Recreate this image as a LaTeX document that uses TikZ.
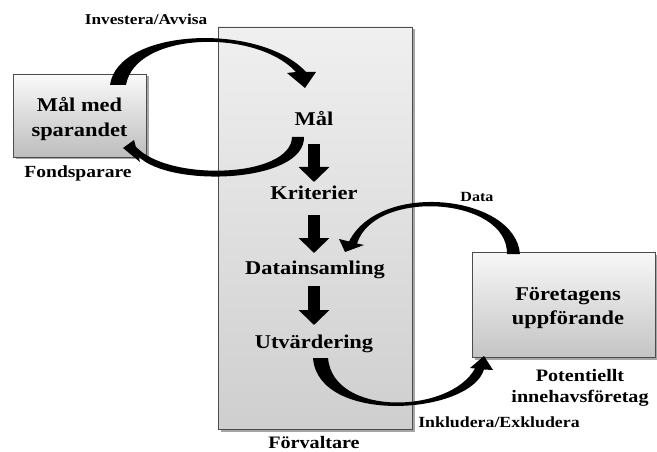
\documentclass[tikz,border=0pt]{standalone}
\usepackage{fontspec}
\setmainfont{Liberation Serif}[FakeStretch=1.15]
\usetikzlibrary{arrows.meta,shadows}

\tikzset{
  panel/.style={draw=black!70, line width=0.8pt, inner sep=0pt,
    drop shadow={shadow xshift=2.5pt, shadow yshift=-2.5pt, fill=black, opacity=0.35}},
  bigtxt/.style={font=\bfseries\fontsize{19.5}{25}\selectfont, inner sep=0pt, align=center},
  midtxt/.style={font=\bfseries\fontsize{17.5}{21}\selectfont, inner sep=0pt, align=center},
  smalltxt/.style={font=\bfseries\fontsize{15}{18}\selectfont, inner sep=0pt},
  blockdown/.style={line width=12pt, -{Triangle[width=30pt,length=15pt]}},
  curvedflow/.style={fill=black}
}

\begin{document}
\begin{tikzpicture}[x=1pt,y=-1pt]
\useasboundingbox (0,0) rectangle (657,452);

% boxes
\node[panel, top color=black!6, bottom color=black!19,
      minimum width=194pt, minimum height=402pt] (mgrbox) at (315,228) {};
\node[panel, top color=black!2, bottom color=black!26,
      minimum width=133pt, minimum height=83pt] (saverbox) at (79.5,115.5) {};
\node[panel, top color=black!3, bottom color=black!23,
      minimum width=183pt, minimum height=105pt] (firmbox) at (563.5,304.5) {};

% straight steps inside the manager box
\coordinate (s1a) at (314,144); \coordinate (s1b) at (314,182);
\coordinate (s2a) at (314,215); \coordinate (s2b) at (314,253);
\coordinate (s3a) at (314,286); \coordinate (s3b) at (314,325);
\draw[blockdown] (s1a) -- (s1b);
\draw[blockdown] (s2a) -- (s2b);
\draw[blockdown] (s3a) -- (s3b);

% Investera/Avvisa: saver -> Mål
\fill[curvedflow] (110,85) .. controls (118,28) and (260,22) .. (306,72)
  -- (316,72) -- (305,88) -- (287,73) -- (296,72)
  .. controls (255,28) and (135,32) .. (126,85) -- cycle;

% Mål -> saver
\fill[curvedflow] (304,137) .. controls (305,183) and (170,188) .. (138.5,156.5)
  -- (140,162) -- (123,148) -- (134,140) -- (135.8,146.6)
  .. controls (168,182) and (291,178) .. (292,137) -- cycle;

% Data: firm -> Datainsamling
\fill[curvedflow] (520,254) .. controls (515,195) and (380,180) .. (349,241.5)
  -- (339,239) -- (345,252) -- (364,245) -- (357,243.5)
  .. controls (375,188) and (508,197) .. (507,254) -- cycle;

% Inkludera/Exkludera: Utvärdering -> firm
\fill[curvedflow] (313,358) .. controls (318,425) and (470,415) .. (484,369.5)
  -- (493,370) -- (484,356) -- (470,368) -- (475,368.5)
  .. controls (450,414) and (333,417) .. (328,358) -- cycle;

% texts (multi-line nodes sit on the baseline of their last line)
\node[bigtxt, anchor=base] (saver) at (79.5,137) {Mål med\\sparandet};
\node[midtxt, anchor=base, font=\bfseries\fontsize{17}{20}\selectfont] (fonds) at (78,178) {Fondsparare};
\node[smalltxt, anchor=base] (invest) at (146,25) {Investera/Avvisa};

\node[bigtxt, anchor=base] (goal) at (314,125) {Mål};
\node[bigtxt, anchor=base] (crit) at (314,200) {Kriterier};
\node[bigtxt, anchor=base] (collect) at (315,274) {Datainsamling};
\node[bigtxt, anchor=base] (assess) at (314,348) {Utvärdering};
\node[midtxt, anchor=base] (mgr) at (314,448) {Förvaltare};

\node[smalltxt, anchor=base, font=\bfseries\fontsize{14}{17}\selectfont] (data) at (477,201) {Data};
\node[bigtxt, anchor=base, font=\bfseries\fontsize{19.5}{24}\selectfont] (firm) at (568,324) {Företagens\\uppförande};
\node[midtxt, anchor=base] (holding) at (580,402) {Potentiellt\\innehavsföretag};
\node[smalltxt, anchor=base, font=\bfseries\fontsize{15.5}{18}\selectfont] (incl) at (499,427) {Inkludera/Exkludera};
\end{tikzpicture}
\end{document}
